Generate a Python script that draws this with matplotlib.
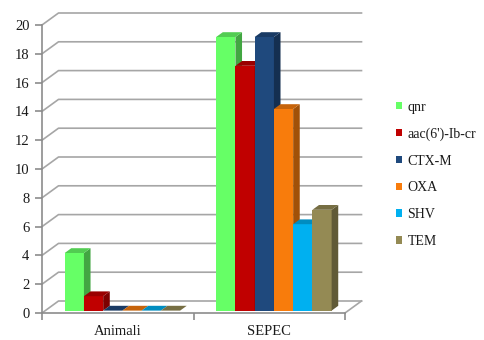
import numpy as np
import matplotlib
matplotlib.use('Agg')
import matplotlib.pyplot as plt
from matplotlib.patches import Polygon, Patch
from matplotlib.colors import to_rgb

plt.rcParams['font.family'] = ['Liberation Serif', 'DejaVu Serif']

# Data
categories = ['Animali', 'SEPEC']
series = ['qnr', "aac(6')-Ib-cr", 'CTX-M', 'OXA', 'SHV', 'TEM']
values = {
    'qnr':           [4, 19],
    "aac(6')-Ib-cr": [1, 17],
    'CTX-M':         [0, 19],
    'OXA':           [0, 14],
    'SHV':           [0, 6],
    'TEM':           [0, 7],
}
colors = ['#66ff66', '#c00000', '#1f497d', '#f87c0c', '#00b0f0', '#948a54']
yticks = np.arange(0, 21, 2)

# 3D look: depth offset in data units
dxu = 16.5 / 151.5
dyu = 12 / 14.4
f0, fd = 0.2, 0.4          # bar front depth fraction, bar depth fraction
w = 0.127                  # bar width
g0 = 0.128                 # gap before the first bar of a group

def shade(c, k):
    r, g, b = to_rgb(c)
    return (r * k, g * k, b * k)

fig = plt.figure(figsize=(4.84, 3.4), dpi=100)
ax = fig.add_axes([42 / 484, 27 / 340, (2 * 151.5 + 16.5) / 484, 300 / 340])
ax.set_xlim(0, 2 + dxu)
ax.set_ylim(0, 20 + dyu)

grid_c = '#a6a6a6'
# back wall gridlines and side wall diagonals
for v in yticks:
    ax.plot([0, dxu, 2 + dxu], [v, v + dyu, v + dyu], color=grid_c, lw=1.2, zorder=1, clip_on=False)
# floor right edge
ax.plot([2, 2 + dxu], [0, dyu], color=grid_c, lw=1.2, zorder=1, clip_on=False)

# bars
for j, name in enumerate(series):
    col = colors[j]
    z = 3 + j * 0.1
    for i, v in enumerate(values[name]):
        x0 = i + g0 + j * w + f0 * dxu
        y0 = f0 * dyu
        ax.bar(x0, v, width=w, bottom=y0, align='edge', color=col, lw=0, zorder=z)
        ddx, ddy = fd * dxu, fd * dyu
        top = [(x0, y0 + v), (x0 + w, y0 + v), (x0 + w + ddx, y0 + v + ddy), (x0 + ddx, y0 + v + ddy)]
        side = [(x0 + w, y0), (x0 + w + ddx, y0 + ddy), (x0 + w + ddx, y0 + v + ddy), (x0 + w, y0 + v)]
        ax.add_patch(Polygon(side, closed=True, color=shade(col, 0.65), lw=0, zorder=z))
        ax.add_patch(Polygon(top, closed=True, color=shade(col, 0.8), lw=0, zorder=z))

# axes styling
for s in ['top', 'right']:
    ax.spines[s].set_visible(False)
ax.spines['left'].set_bounds(0, 20)
ax.spines['bottom'].set_bounds(0, 2)
for s in ['left', 'bottom']:
    ax.spines[s].set_color('#8c8c8c')
    ax.spines[s].set_linewidth(1.2)
    ax.spines[s].set_zorder(2)

ax.set_yticks(yticks)
ax.set_xticks([0, 1, 2])
ax.set_xticklabels([])
ax.set_xticks([0.5, 1.5], minor=True)
ax.set_xticklabels(categories, minor=True)
ax.tick_params(axis='y', length=5, color='#8c8c8c', width=1.2, pad=4, labelsize=10.5, labelcolor='#1a1a1a')
ax.tick_params(axis='x', which='major', length=5, color='#8c8c8c', width=1.2)
ax.tick_params(axis='x', which='minor', length=0, pad=8.5, labelsize=10.5, labelcolor='#1a1a1a')
ax.patch.set_alpha(0)

handles = [Patch(facecolor=c, edgecolor='none') for c in colors]
fig.legend(handles, series, loc='upper left', bbox_to_anchor=(390 / 484, 1 - 95 / 340),
           frameon=False, fontsize=10, handlelength=0.45, handleheight=0.45,
           handletextpad=0.4, labelspacing=0.99, borderaxespad=0, labelcolor='#1a1a1a')

fig.savefig('out.png', dpi=100)
